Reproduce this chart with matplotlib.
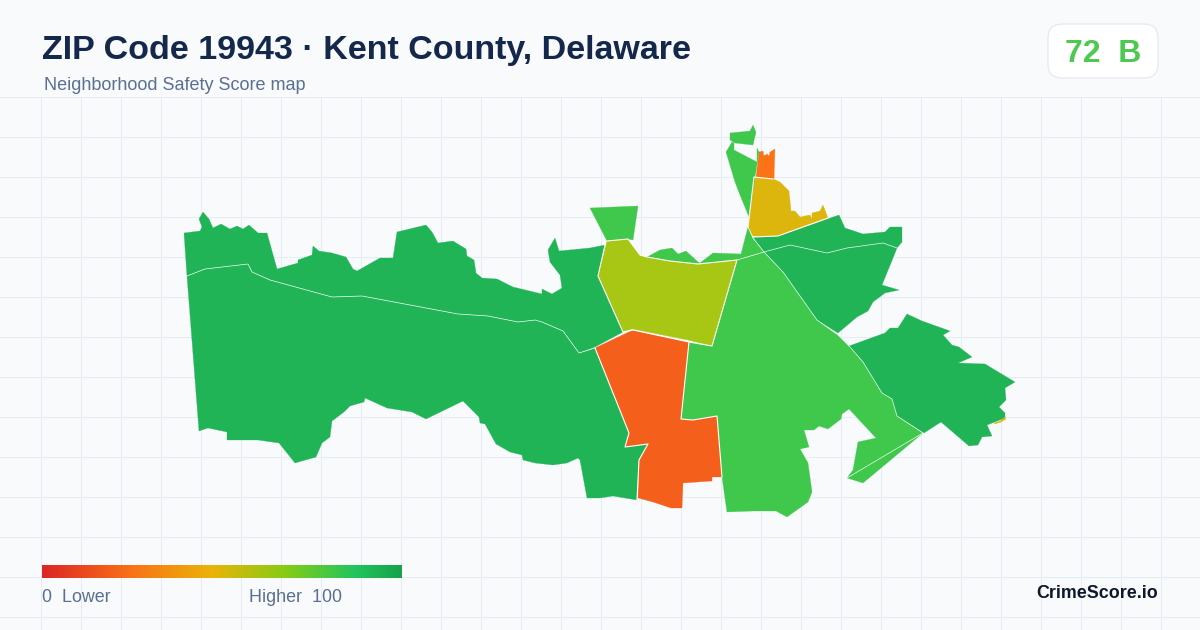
import numpy as np
import matplotlib
matplotlib.use("Agg")
import matplotlib.pyplot as plt
from matplotlib.colors import LinearSegmentedColormap
from matplotlib.patches import FancyBboxPatch, Polygon

plt.rcParams['font.family'] = ['Liberation Sans', 'DejaVu Sans']

TITLE = "ZIP Code 19943 · Kent County, Delaware"
SUBTITLE = "Neighborhood Safety Score map"
SCORE_TEXT = "72  B"
LEGEND_LOW = "0  Lower"
LEGEND_HIGH = "Higher  100"
BRAND = "CrimeScore.io"

RAMP_POS = [0.0, 0.25, 0.47, 0.68, 0.87, 1.0]
RAMP_COL = ["#dc2626", "#f97316", "#eab308", "#84cc16", "#22c55e", "#16a34a"]

C_DARK = "#20b457"
C_MID = "#40c84c"
C_LIME = "#a8c614"
C_YEL = "#dcb60c"
C_ORG = "#f55f1c"
C_ORG2 = "#fb7316"

west_north = [(184,233),(200,231),(202,227),(199,219),(203,212),(209,219),(213,228),(221,224),(230,229),(237,226),(243,229),(249,225),(258,233),(267,233),(277,269),(298,263),(298,260),(312,255),(313,246),(319,251),(332,253),(346,257),(353,269),(357,271),(380,258),(393,258),(397,232),(426,225),(432,232),(438,243),(453,241),(466,249),(467,256),(474,260),(476,273),(482,278),(497,279),(513,287),(542,294),(542,289),(552,294),(562,288),(560,275),(550,262),(548,250),(555,238),(559,251),(590,248),(605,245),(598,276),(623,332),(595,347),(579,353),(563,331),(542,322),(535,320),(518,322),(488,316),(458,314),(362,296),(332,297),(270,280),(252,272),(248,264),(205,269),(187,276)]
west_south = [(187,276),(205,269),(248,264),(252,272),(270,280),(332,297),(362,296),(458,314),(488,316),(518,322),(535,320),(542,322),(563,331),(579,353),(595,348),(629,433),(625,447),(648,444),(639,460),(637,500),(613,496),(600,498),(587,498),(580,460),(578,458),(567,463),(553,465),(535,463),(523,460),(522,455),(510,452),(496,444),(485,424),(480,423),(479,417),(463,401),(426,419),(412,412),(387,408),(365,398),(364,402),(350,406),(344,412),(332,421),(330,437),(322,443),(316,457),(295,463),(279,443),(258,440),(227,440),(227,432),(208,428),(199,431)]
north_tab = [(590,208),(638,206),(633,240),(628,239),(607,241)]
lime_area = [(607,241),(628,239),(640,255),(647,257),(670,261),(698,264),(737,260),(712,346),(688,340),(632,329),(623,332),(598,276)]
north_strip = [(647,257),(660,250),(672,248),(678,254),(686,251),(698,262),(700,263),(713,253),(741,254),(748,227),(753,238),(764,252),(737,260),(698,264),(670,261)]
central = [(737,260),(764,252),(783,272),(817,320),(838,335),(850,347),(863,362),(882,393),(892,399),(897,416),(923,433),(863,483),(847,478),(853,470),(858,442),(876,438),(849,409),(842,414),(841,419),(828,429),(819,426),(814,430),(804,430),(809,447),(800,449),(808,463),(812,492),(808,502),(787,517),(776,511),(753,511),(727,512),(722,477),(717,416),(693,420),(681,419),(689,342),(712,346)]
south_orange = [(595,348),(633,330),(689,342),(681,419),(693,420),(717,416),(722,477),(712,477),(712,481),(683,483),(682,508),(671,508),(653,502),(638,498),(639,460),(648,444),(625,447),(629,433)]
east_area = [(849,346),(885,333),(890,328),(898,328),(907,314),(922,321),(950,331),(943,335),(952,345),(959,347),(972,357),(958,363),(985,364),(1015,382),(1005,388),(1006,400),(999,407),(1005,413),(1005,418),(987,425),(992,436),(982,437),(978,445),(969,446),(941,422),(924,433),(897,416),(892,399),(882,393),(863,362)]
east_specks = [(994,423),(1000,421),(1005,417),(1006,419),(1001,422),(995,424)]
northeast = [(753,237),(778,236),(839,215),(845,228),(863,234),(885,232),(890,227),(902,227),(902,242),(897,248),(893,258),(882,285),(899,290),(885,293),(873,302),(868,311),(857,317),(838,333),(817,320),(783,272),(764,252)]
yellow_area = [(748,227),(754,177),(773,179),(780,182),(789,191),(791,211),(795,211),(800,217),(810,215),(812,219),(812,213),(820,211),(823,205),(828,218),(778,236),(753,236)]
small_orange = [(756,177),(759,152),(763,151),(764,156),(767,154),(769,156),(770,152),(775,149),(774,179)]
top_cap = [(730,133),(750,131),(753,125),(756,132),(753,145),(735,143),(730,140)]
top_wedge = [(726,152),(732,142),(734,143),(734,150),(757,162),(757,148),(759,152),(755,177),(749,217),(740,195),(735,182)]

REGIONS = [
    (west_north, C_DARK), (west_south, C_DARK), (north_tab, C_MID),
    (north_strip, C_MID), (central, C_MID), (lime_area, C_LIME),
    (south_orange, C_ORG), (east_area, C_DARK), (east_specks, C_YEL),
    (northeast, C_DARK), (yellow_area, C_YEL), (small_orange, C_ORG2),
    (top_cap, C_MID), (top_wedge, C_MID),
]

BORDERS_THIN = [
    [(187,276),(205,269),(248,264),(252,272),(270,280),(332,297),(362,296),(458,314),(488,316),(518,322),(535,320),(542,322),(563,331),(579,353),(595,348)],
    [(764,252),(790,245),(827,253),(847,248),(883,243),(897,248)],
    [(764,252),(783,272),(817,320),(838,335),(850,347),(863,362),(882,393),(892,399),(897,416),(923,433),(847,478)],
    [(737,260),(764,252)],
    [(748,227),(753,238),(764,252)],
]
BORDERS_THICK = [
    [(605,245),(598,276),(623,332),(633,330),(689,342),(712,346),(737,260),(698,264),(670,261),(647,257),(640,255),(628,239),(607,241)],
    [(595,348),(629,433),(625,447),(648,444),(639,460),(637,500)],
    [(689,342),(681,419),(693,420),(717,416),(722,477)],
    [(748,227),(754,177),(773,179)],
    [(753,237),(778,236),(828,218)],
]

fig = plt.figure(figsize=(12, 6.3), dpi=100, facecolor="#f8fafc")
ax = fig.add_axes([0, 0, 1, 1])
ax.set_xlim(0, 1200)
ax.set_ylim(630, 0)
ax.axis("off")

# background grid
for gx in np.arange(40.5, 1200, 40):
    ax.plot([gx, gx], [96.5, 630], color="#e4edf3", lw=0.72, zorder=1)
for gy in np.arange(96.6, 630, 40):
    ax.plot([0, 1200], [gy, gy], color="#e4edf3", lw=0.72, zorder=1)

for pts, col in REGIONS:
    ax.add_patch(Polygon(pts, closed=True, facecolor=col, edgecolor=col, lw=0.2, zorder=2))
for line in BORDERS_THIN:
    xs, ys = zip(*line)
    ax.plot(xs, ys, color="#ffffff", lw=0.5, alpha=0.9, zorder=3, solid_joinstyle="round")
for line in BORDERS_THICK:
    xs, ys = zip(*line)
    ax.plot(xs, ys, color="#ffffff", lw=0.8, zorder=3, solid_joinstyle="round")

# titles
ax.text(42, 51, TITLE, fontsize=24.45, fontweight="bold", color="#14284b", va="center", ha="left", zorder=5)
ax.text(44, 86, SUBTITLE, fontsize=12.95, color="#5a7090", va="center", ha="left", zorder=5)

# score badge
ax.add_patch(FancyBboxPatch((1062, 38), 82, 26, boxstyle="round,pad=14,rounding_size=14",
                            facecolor="#ffffff", edgecolor="#e2e8f0", lw=0.8, zorder=5))
ax.text(1103, 54, SCORE_TEXT, fontsize=23, fontweight="bold", color="#4cc94f", va="center", ha="center", zorder=6)

# legend ramp
cmap = LinearSegmentedColormap.from_list("ramp", list(zip(RAMP_POS, RAMP_COL)))
ax.imshow(np.linspace(0, 1, 360)[None, :], cmap=cmap, extent=(42, 402, 578, 565), aspect="auto", zorder=5)
ax.set_xlim(0, 1200)
ax.set_ylim(630, 0)
ax.text(42, 598, LEGEND_LOW, fontsize=12.9, color="#5a7090", va="center", ha="left", zorder=5)
ax.text(249, 598, LEGEND_HIGH, fontsize=12.9, color="#5a7090", va="center", ha="left", zorder=5)
ax.text(1158, 594, BRAND, fontsize=12.9, fontweight="bold", color="#0f172a", va="center", ha="right", zorder=5)

fig.savefig("out.png", dpi=100, facecolor=fig.get_facecolor())
